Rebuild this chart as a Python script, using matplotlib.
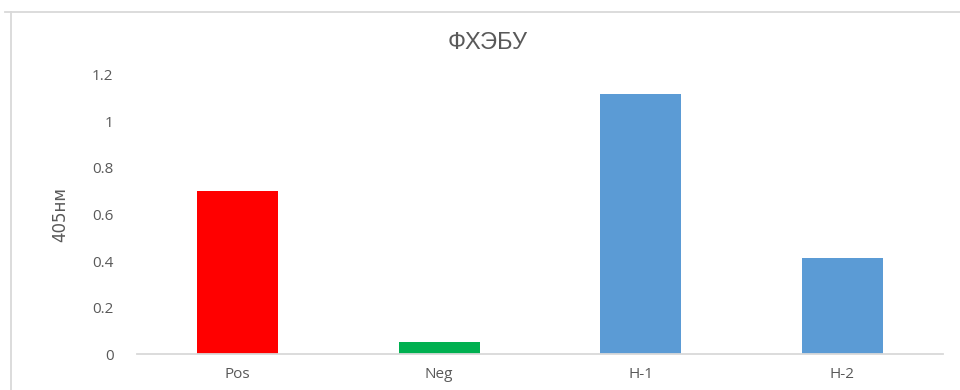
import matplotlib
matplotlib.use("Agg")
import matplotlib.pyplot as plt
from matplotlib.lines import Line2D

# data
categories = ["Pos", "Neg", "H-1", "H-2"]
values = [0.70, 0.05, 1.12, 0.415]
colors = ["#FF0000", "#00B050", "#5B9BD5", "#5B9BD5"]
yticks = [0, 0.2, 0.4, 0.6, 0.8, 1.0, 1.2]
ytick_labels = ["0", "0.2", "0.4", "0.6", "0.8", "1", "1.2"]

text_col = "#595959"
line_col = "#D9D9D9"

fig = plt.figure(figsize=(9.6, 3.9), dpi=100)
ax = fig.add_axes([0.1427, 0.0923, 0.8396, 0.7154])

x = range(len(categories))
ax.bar(x, values, width=0.4, color=colors)

ax.set_xlim(-0.5, len(categories) - 0.5)
ax.set_ylim(0, 1.2)
ax.set_yticks(yticks)
ax.set_yticklabels(ytick_labels)
ax.set_xticks(list(x))
ax.set_xticklabels(categories)

for s in ["top", "right", "left"]:
    ax.spines[s].set_visible(False)
ax.spines["bottom"].set_color(line_col)
ax.spines["bottom"].set_linewidth(1.3)
ax.tick_params(axis="both", length=0, colors=text_col, labelsize=11)
ax.tick_params(axis="y", pad=17)
ax.tick_params(axis="x", pad=9)
for lab in ax.get_xticklabels() + ax.get_yticklabels():
    lab.set_fontfamily("Open Sans")

# title and y label
fig.text(0.508, 0.89, "ФХЭБУ", ha="center", va="center", fontsize=17,
         color=text_col, family="Liberation Sans")
fig.text(0.063, 0.45, "405нм", ha="center", va="center", rotation=90,
         fontsize=12, color=text_col, family="Liberation Sans Narrow")

# chart area border
fig.add_artist(Line2D([0.005, 1.0], [0.9705, 0.9705], color=line_col, lw=1.3))
fig.add_artist(Line2D([0.011, 0.011], [0.0, 0.9705], color=line_col, lw=1.3))

fig.savefig("out.png", dpi=100)
